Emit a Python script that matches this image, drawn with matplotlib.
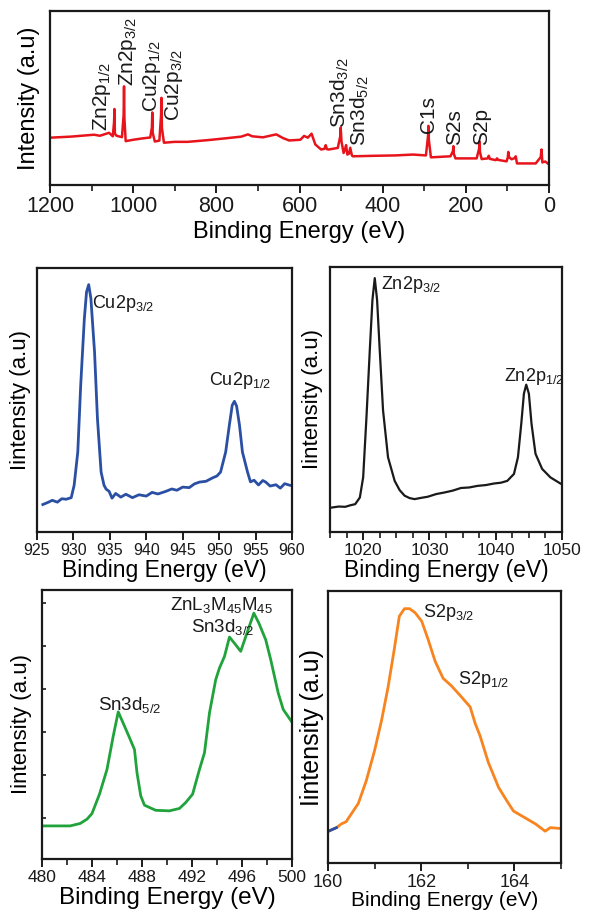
import numpy as np
import matplotlib
matplotlib.use('Agg')
import matplotlib.pyplot as plt
from matplotlib.ticker import MultipleLocator

plt.rcParams['font.family'] = ['Liberation Sans', 'DejaVu Sans']
plt.rcParams['mathtext.default'] = 'regular'

## DATA (intensities in arbitrary 0-100 units)
# survey spectrum
survey_be = [1200, 1150, 1094, 1080, 1058, 1049, 1046, 1045, 1044, 1040, 1027, 1023, 1022, 1021, 1018, 1000,
             977, 959, 955, 954, 953, 948, 937, 933, 932, 931, 926, 900, 869, 820, 779, 740, 724, 714, 688,
             656, 640, 625, 598, 589, 580, 571, 562, 548, 540, 537, 534, 530, 508, 502, 501, 499, 494, 490,
             488, 485, 481, 478, 474, 472, 418, 370, 327, 296, 291, 290, 289, 284, 237, 231, 230, 229, 225,
             174, 168, 167, 166, 162, 147, 145, 142, 128, 125, 122, 102, 99, 98, 96, 90, 82, 80, 77, 32, 20,
             18, 16, 9, 5, 0]
survey_int = [27.2, 27.8, 28.9, 28.3, 30.0, 28.0, 36.0, 43.7, 29.5, 28.3, 27.5, 40.0, 56.7, 38.0, 25.2, 26.0,
              26.8, 27.3, 33.0, 41.7, 30.0, 25.0, 25.5, 40.0, 50.1, 33.0, 24.3, 24.8, 24.8, 25.8, 26.8, 27.8,
              29.1, 28.0, 27.4, 29.1, 27.0, 25.6, 26.0, 28.2, 27.2, 29.5, 23.3, 20.4, 20.8, 22.9, 20.6, 20.4,
              21.3, 28.0, 33.0, 25.0, 18.4, 21.0, 22.9, 17.5, 18.0, 21.4, 17.0, 16.5, 16.8, 17.0, 17.5, 17.0,
              28.0, 34.0, 26.0, 15.9, 16.5, 19.5, 22.3, 18.0, 15.3, 15.3, 21.0, 24.9, 19.0, 14.9, 15.3, 16.8,
              15.0, 14.3, 15.3, 14.4, 13.6, 16.0, 19.0, 16.0, 14.8, 15.5, 16.5, 12.4, 12.4, 16.0, 20.4, 13.0,
              13.5, 12.8, 11.7]
survey_labels = ['Zn2p$_{1/2}$', 'Zn2p$_{3/2}$', 'Cu2p$_{1/2}$', 'Cu2p$_{3/2}$', 'Sn3d$_{3/2}$',
                 'Sn3d$_{5/2}$', 'C1s', 'S2s', 'S2p']
survey_label_be = [1075, 1013, 955, 903, 504, 454, 290, 226, 162]
survey_label_int = [31, 57, 41.7, 37, 33, 22.3, 30, 23, 23]

# Cu 2p
cu_be = [925.8, 926.5, 927.1, 927.8, 928.4, 929.0, 929.7, 930.1, 930.6, 931.0, 931.5, 931.8, 932.1, 932.4,
         932.9, 933.3, 933.8, 934.2, 934.5, 934.9, 935.3, 935.8, 936.5, 937.2, 938.1, 939.0, 940.0, 940.8,
         941.6, 942.7, 943.5, 944.2, 945.0, 945.9, 946.6, 947.3, 948.2, 949.1, 949.7, 950.2, 950.9, 951.4,
         951.8, 952.1, 952.4, 952.8, 953.2, 953.9, 954.3, 954.8, 955.4, 956.0, 956.4, 957.0, 957.8, 958.4,
         959.0, 959.7]
cu_int = [10.4, 11.2, 12.0, 11.3, 12.6, 12.4, 13.0, 17.7, 30.3, 55.6, 80.8, 90.9, 93.7, 88.4,
          68.2, 42.9, 22.7, 17.7, 16.2, 15.4, 12.8, 14.6, 13.2, 14.3, 13.0, 14.1, 13.6, 15.0,
          14.4, 15.4, 16.3, 15.8, 17.0, 16.8, 18.2, 18.9, 19.2, 20.5, 21.2, 22.7, 30.3, 40.4,
          48.0, 49.5, 47.7, 40.4, 30.3, 22.7, 19.0, 19.6, 17.8, 19.5, 18.9, 17.4, 17.9, 16.6,
          18.3, 17.7]

# Zn 2p
zn_be = [1015.2, 1016.3, 1017.3, 1018.1, 1018.8, 1019.5, 1020.0, 1020.5, 1021.0, 1021.4, 1021.75, 1022.1,
         1022.5, 1023.0, 1023.75, 1024.75, 1025.5, 1026.25, 1027.0, 1027.75, 1028.8, 1029.75, 1031.0,
         1032.25, 1033.5, 1034.75, 1036.0, 1037.25, 1038.5, 1039.75, 1040.8, 1041.75, 1042.75, 1043.35,
         1043.85, 1044.25, 1044.6, 1045.0, 1045.4, 1046.0, 1047.0, 1048.25, 1049.75]
zn_int = [9.2, 9.6, 9.5, 10.1, 10.5, 13.0, 20.6, 43.4, 68.6, 87.6, 95.8, 87.6,
          68.6, 45.9, 28.2, 19.3, 15.8, 13.7, 12.8, 12.4, 12.9, 13.3, 14.3,
          14.9, 15.6, 16.6, 16.8, 17.4, 17.7, 18.3, 18.6, 19.3, 21.9, 28.2,
          40.8, 52.2, 55.6, 52.2, 40.8, 29.5, 23.8, 20.6, 18.3]

# Sn 3d
sn_be = [480.1, 482.25, 483.05, 483.6, 484.0, 484.6, 485.2, 485.7, 486.1, 486.6, 487.0, 487.4, 487.6, 487.9,
         488.2, 489.1, 490.2, 491.0, 491.5, 492.05, 492.6, 493.0, 493.4, 493.9, 494.2, 494.6, 495.0, 495.4,
         495.9, 496.4, 496.95, 497.35, 497.9, 498.3, 498.9, 499.3, 499.95]
sn_int = [12.3, 12.3, 13.2, 14.8, 16.9, 24.1, 33.3, 45.7, 54.7, 49.4, 45.1, 40.7, 32.1, 23.5,
          20.0, 18.1, 17.9, 18.8, 21.0, 24.1, 33.3, 39.5, 54.3, 66.7, 71.0, 75.3, 82.5, 80.2,
          77.2, 84.0, 91.4, 87.7, 81.5, 74.1, 61.7, 55.6, 51.2]

# S 2p
s_be = [160.01, 160.18, 160.29, 160.39, 160.47, 160.65, 160.82, 161.0, 161.15, 161.29, 161.42, 161.53,
        161.64, 161.75, 161.87, 162.01, 162.15, 162.3, 162.47, 162.65, 162.83, 163.05, 163.16, 163.26,
        163.44, 163.66, 163.84, 163.98, 164.16, 164.45, 164.66, 164.77, 164.99]
s_int = [11.7, 13.0, 14.4, 15.2, 17.3, 21.9, 30.2, 41.4, 52.5, 64.8, 78.4, 90.7,
         93.5, 93.5, 92.0, 88.9, 82.1, 74.1, 67.9, 65.1, 61.7, 57.4, 51.2, 46.9,
         37.0, 27.8, 22.8, 19.1, 17.3, 14.4, 11.7, 13.0, 12.7]

SPINE_W = 1.6
TEXT_C = '#1a1a1a'


def style_axes(ax, label_size):
    for s in ax.spines.values():
        s.set_linewidth(SPINE_W)
        s.set_color(TEXT_C)
    ax.set_yticks([])
    ax.tick_params(axis='x', which='major', direction='out', length=6, width=1.4,
                   labelsize=label_size, pad=2, colors=TEXT_C)
    ax.tick_params(axis='x', which='minor', direction='out', length=4, width=1.2, colors=TEXT_C)
    ax.set_ylim(0, 100)


fig = plt.figure(figsize=(5.89, 9.15), dpi=100)

# survey
ax0 = fig.add_axes([0.0849, 0.7978, 0.8472, 0.1902])
ax0.plot(survey_be, survey_int, color='#e8141c', lw=1.8)
ax0.set_xlim(1200, 0)
ax0.xaxis.set_major_locator(MultipleLocator(200))
ax0.xaxis.set_minor_locator(MultipleLocator(100))
style_axes(ax0, 15.5)
ax0.set_xlabel('Binding Energy (eV)', fontsize=17, labelpad=3)
ax0.set_ylabel('Intensity (a.u)', fontsize=17, labelpad=7)
for lab, x, y in zip(survey_labels, survey_label_be, survey_label_int):
    ax0.text(x, y, lab, rotation=90, ha='center', va='bottom', fontsize=15, color=TEXT_C)

# Cu 2p
ax1 = fig.add_axes([0.0628, 0.4186, 0.4329, 0.2885])
ax1.plot(cu_be, cu_int, color='#2a4fa3', lw=2)
ax1.set_xlim(925, 960)
ax1.xaxis.set_major_locator(MultipleLocator(5))
style_axes(ax1, 11.5)
ax1.set_xlabel('Binding Energy (eV)', fontsize=16.5, labelpad=1)
ax1.set_ylabel('Iintensity (a.u)', fontsize=16, labelpad=4)
ax1.text(932.6, 86.5, 'Cu2p$_{3/2}$', ha='left', va='center', fontsize=13, color=TEXT_C)
ax1.text(948.6, 57.5, 'Cu2p$_{1/2}$', ha='left', va='center', fontsize=13, color=TEXT_C)

# Zn 2p
ax2 = fig.add_axes([0.5603, 0.4186, 0.3939, 0.2896])
ax2.plot(zn_be, zn_int, color='#1a1a1a', lw=1.6)
ax2.set_xlim(1015, 1050)
ax2.xaxis.set_major_locator(MultipleLocator(10))
ax2.xaxis.set_minor_locator(MultipleLocator(2.5))
style_axes(ax2, 12.5)
ax2.set_xlabel('Binding Energy (eV)', fontsize=16.5, labelpad=1)
ax2.set_ylabel('Iintensity (a.u)', fontsize=16, labelpad=5)
ax2.text(1022.65, 93.3, 'Zn2p$_{3/2}$', ha='left', va='center', fontsize=13, color=TEXT_C)
ax2.text(1041.25, 58.5, 'Zn2p$_{1/2}$', ha='left', va='center', fontsize=13, color=TEXT_C)

# Sn 3d
ax3 = fig.add_axes([0.0713, 0.0612, 0.4244, 0.294])
ax3.plot(sn_be, sn_int, color='#21a33c', lw=2)
ax3.set_xlim(480, 500)
ax3.xaxis.set_major_locator(MultipleLocator(4))
ax3.xaxis.set_minor_locator(MultipleLocator(2))
style_axes(ax3, 12.5)
ax3.set_yticks([15.1, 47.1, 79.1])
ax3.set_yticks([31.1, 63.1, 95.1], minor=True)
ax3.tick_params(axis='y', which='both', direction='in', length=3, width=1.2,
                labelleft=False, colors=TEXT_C)
ax3.set_xlabel('Binding Energy (eV)', fontsize=17.5, labelpad=1)
ax3.set_ylabel('Iintensity (a.u)', fontsize=16, labelpad=7)
ax3.text(484.5, 57.4, 'Sn3d$_{5/2}$', ha='left', va='center', fontsize=13.5, color=TEXT_C)
ax3.text(490.25, 94.4, 'ZnL$_3$M$_{45}$M$_{45}$', ha='left', va='center', fontsize=13.5, color=TEXT_C)
ax3.text(491.9, 86.4, 'Sn3d$_{3/2}$', ha='left', va='center', fontsize=13.5, color=TEXT_C)

# S 2p
ax4 = fig.add_axes([0.5569, 0.0568, 0.3956, 0.2973])
ax4.plot(s_be, s_int, color='#f7841f', lw=2)
ax4.plot(s_be[:2], s_int[:2], color='#2a4fa3', lw=2)
ax4.set_xlim(160, 165)
ax4.xaxis.set_major_locator(MultipleLocator(2))
ax4.xaxis.set_minor_locator(MultipleLocator(1))
style_axes(ax4, 13)
ax4.set_xlabel('Binding Energy (eV)', fontsize=15, labelpad=0)
ax4.set_ylabel('Iintensity (a.u)', fontsize=18, labelpad=3)
ax4.text(162.04, 92, 'S2p$_{3/2}$', ha='left', va='center', fontsize=13, color=TEXT_C)
ax4.text(162.78, 67.3, 'S2p$_{1/2}$', ha='left', va='center', fontsize=13, color=TEXT_C)

fig.savefig('out.png', dpi=100)
